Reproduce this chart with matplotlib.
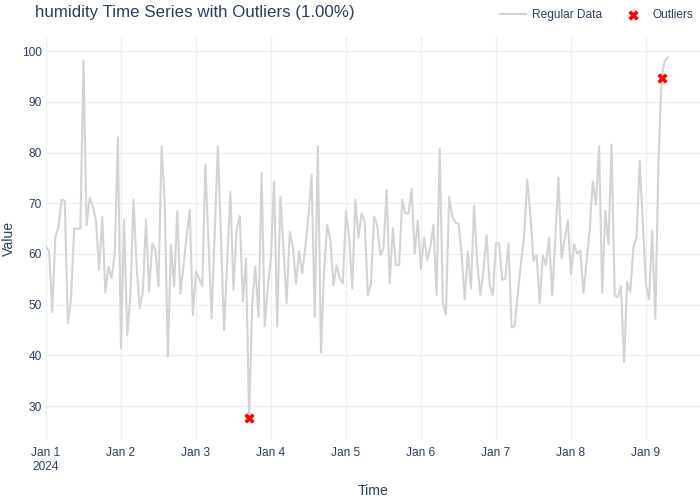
import matplotlib
matplotlib.use("Agg")
import matplotlib.pyplot as plt
import pandas as pd

# hourly readings starting 2024-01-01 00:00
start = "2024-01-01"
humidity = [
    61.4, 60.5, 48.5, 63.4, 65.3, 70.7, 70.5, 46.3, 51.2, 65.0,
    65.0, 65.0, 98.2, 65.7, 71.1, 69.3, 66.6, 56.8, 67.3, 52.4,
    57.5, 55.2, 60.1, 83.0, 41.4, 66.7, 44.0, 51.6, 70.7, 57.5,
    49.3, 52.6, 66.7, 52.6, 62.1, 60.8, 53.6, 81.2, 70.0, 39.7,
    61.8, 53.6, 68.4, 52.2, 57.5, 63.5, 68.7, 48.0, 56.5, 55.2,
    53.6, 77.6, 62.5, 47.3, 64.0, 81.2, 63.0, 45.0, 58.5, 72.3,
    52.9, 64.7, 67.5, 50.6, 59.1, 27.6, 50.3, 57.5, 47.6, 76.0,
    45.7, 53.6, 59.5, 74.3, 45.7, 71.3, 61.0, 50.3, 64.4, 61.4,
    54.1, 60.5, 56.2, 61.4, 67.4, 75.6, 47.6, 81.2, 40.5, 56.8,
    65.7, 62.8, 53.8, 57.8, 55.2, 54.2, 68.4, 63.4, 53.2, 70.7,
    63.2, 68.0, 66.4, 51.9, 54.2, 67.4, 65.7, 59.8, 61.1, 72.6,
    54.2, 65.1, 57.8, 57.8, 70.7, 68.0, 68.0, 72.9, 60.1, 66.6,
    57.0, 63.2, 58.8, 61.4, 65.7, 51.9, 80.7, 50.3, 48.0, 71.3,
    67.4, 66.2, 66.0, 60.1, 51.0, 60.5, 53.2, 69.5, 58.2, 51.9,
    56.8, 63.7, 53.8, 51.9, 62.1, 62.1, 54.9, 55.2, 62.1, 45.5,
    45.8, 52.2, 58.2, 63.4, 74.6, 68.0, 58.6, 59.8, 50.3, 59.7,
    57.8, 63.2, 51.9, 63.0, 75.1, 59.1, 63.0, 66.6, 56.0, 61.9,
    60.1, 60.7, 52.3, 58.6, 64.8, 74.3, 69.7, 81.3, 52.3, 68.5,
    61.9, 81.6, 51.8, 51.5, 53.6, 38.7, 54.5, 52.5, 61.4, 63.4,
    78.4, 66.0, 53.9, 51.1, 64.6, 47.2, 78.0, 94.8, 98.1, 98.8,
]
outlier_idx = [65, 197]
y_ticks = [30, 40, 50, 60, 70, 80, 90, 100]
x_tick_labels = ["Jan 1\n2024", "Jan 2", "Jan 3", "Jan 4", "Jan 5",
                 "Jan 6", "Jan 7", "Jan 8", "Jan 9"]

times = pd.date_range(start, periods=len(humidity), freq="h")
out_times = [times[i] for i in outlier_idx]
out_vals = [humidity[i] for i in outlier_idx]
day_ticks = pd.date_range(start, periods=len(x_tick_labels), freq="D")

plt.rcParams["font.family"] = ["Liberation Sans", "DejaVu Sans"]
txt = "#2a3f5f"
grid = "#ebf0f8"

fig = plt.figure(figsize=(7, 5), dpi=100)
ax = fig.add_axes([46 / 700, 60 / 500, 654 / 700, 403 / 500])

ax.plot(times, humidity, color="#d3d3d3", lw=1.5, label="Regular Data", zorder=2)
ax.scatter(out_times, out_vals, marker="X", s=55, color="red", lw=0,
           label="Outliers", zorder=3)

ax.set_xlim(times[0], times[0] + pd.Timedelta(hours=209.3))
ax.set_ylim(23.3, 102.8)
ax.set_yticks(y_ticks)
ax.set_xticks(day_ticks)
ax.set_xticklabels(x_tick_labels)
ax.grid(True, color=grid, lw=1)
ax.set_axisbelow(True)
for s in ax.spines.values():
    s.set_visible(False)
ax.tick_params(length=0, labelsize=8.6, labelcolor=txt)
ax.tick_params(axis="x", pad=5)
ax.tick_params(axis="y", pad=3)

ax.set_xlabel("Time", fontsize=10.1, color=txt, labelpad=8)
ax.set_ylabel("Value", fontsize=10.1, color=txt)
ax.yaxis.set_label_coords(-0.046, 0.5)

fig.text(35 / 700, 1 - 13 / 500, "humidity Time Series with Outliers (1.00%)",
         fontsize=12.2, color=txt, va="center", ha="left")
fig.legend(loc="center right", bbox_to_anchor=(1.0, 1 - 15 / 500), ncol=2,
           frameon=False, fontsize=8.6, labelcolor=txt, handlelength=2.2,
           columnspacing=1.5, handletextpad=0.5, borderaxespad=0.2)

fig.savefig("out.png", dpi=100)
